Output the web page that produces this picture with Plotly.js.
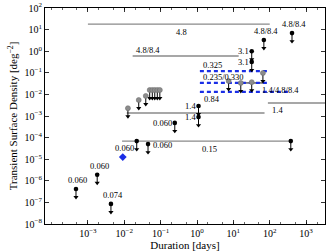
<!DOCTYPE html>
<html>
<head>
<meta charset="utf-8">
<script src="https://cdn.plot.ly/plotly-3.0.1.min.js"></script>
<style>html,body{margin:0;padding:0;background:#fff;}#chart{width:326px;height:252px;}</style>
</head>
<body>
<div id="chart"></div>
<script>
// ---- data (durations in days, densities in deg^-2) ----
// horizontal gray lines (survey limits)
const hlineStart   = [1e-3, 0.017, 0.0117, 0.0087, 89, 16];
const hlineEnd     = [100, 14, 72, 380, 5000, 65];
const hlineDensity = [18, 0.6, 0.00138, 6.9e-5, 0.004, 0.034];
const hlineLabel   = ['4.8', '4.8/8.4', '', '0.15', '1.4', '1.4/4.8/8.4'];

// blue dashed lines
const dashStart   = [1.2, 1.2, 1.2];
const dashEnd     = [100, 100, 380];
const dashDensity = [0.12, 0.034, 0.013];
const dashLabel   = ['0.325', '0.235/0.330', '0.84'];

// black upper-limit points
const limDur   = [4.7e-4, 1.8e-3, 4.3e-3, 0.022, 0.045, 0.245, 1.1, 1.1, 380, 32, 32, 69, 410];
const limDens  = [4.2e-7, 1.9e-6, 8.5e-8, 6.9e-5, 5e-5, 4.8e-4, 2.9e-3, 8.9e-4, 6.9e-5, 1.0, 0.32, 3.3, 6.9];
const limLabel = ['0.060', '0.060', '0.074', '', '0.060', '0.060', '1.4', '1.4', '', '3.1', '3.1', '4.8/8.4', '4.8/8.4'];

// gray upper-limit points
const grayDur  = [0.0126, 0.025, 0.039, 0.05, 0.059, 0.069, 0.081, 0.095, 7.4, 16, 32, 65];
const grayDens = [2.3e-3, 5.5e-3, 8.5e-3, 0.016, 0.016, 0.016, 0.016, 0.016, 0.042, 0.034, 0.037, 0.098];

// blue detection
const detDur   = [9.1e-3];
const detDens  = [1.26e-5];
const detLabel = ['0.060'];

// axis ticks (decade exponents)
const xTickExp = [-3, -2, -1, 0, 1, 2, 3];
const yTickExp = [-8, -7, -6, -5, -4, -3, -2, -1, 0, 1, 2];

// ---- styles ----
const FONT = 'Liberation Serif';
const ARROW_DEX = 0.38;   // arrow length in decades (visual style)
const hlinePlace = ['belowCenter', 'aboveStart', 'none', 'belowCenter', 'belowStart', 'belowEnd'];
const dashPlace  = ['aboveStart', 'aboveStart', 'belowStart'];
const limPlace   = ['above', 'above', 'above', 'none', 'right', 'left', 'left', 'left', 'none', 'left', 'left', 'above', 'above'];

const L = Math.log10;
const traces = [];
const ann = [];
const labFont = {family: FONT, size: 8.5, color: '#000'};

function lineLabel(text, place, x0, x1, y) {
  if (!text || place === 'none') return;
  const a = {text: text, showarrow: false, font: labFont, y: L(y), xref: 'x', yref: 'y'};
  if (place === 'belowCenter') { a.x = (L(x0) + L(x1)) / 2; a.xanchor = 'center'; a.yanchor = 'top'; a.yshift = -1; a.xshift = 3; }
  if (place === 'aboveStart')  { a.x = L(x0); a.xanchor = 'left'; a.yanchor = 'bottom'; a.yshift = -1; a.xshift = 1; }
  if (place === 'belowStart')  { a.x = L(x0); a.xanchor = 'left'; a.yanchor = 'top'; a.yshift = 0; a.xshift = 2; }
  if (place === 'belowEnd')    { a.x = L(x1); a.xanchor = 'left'; a.yanchor = 'top'; a.yshift = 0; a.xshift = -3; }
  ann.push(a);
}

hlineStart.forEach((x0, i) => {
  traces.push({x: [x0, hlineEnd[i]], y: [hlineDensity[i], hlineDensity[i]], mode: 'lines',
    line: {color: i === 5 ? '#555' : '#8a8a8a', width: 1.4}, hoverinfo: 'skip'});
  lineLabel(hlineLabel[i], hlinePlace[i], x0, hlineEnd[i], hlineDensity[i]);
});

dashStart.forEach((x0, i) => {
  traces.push({x: [x0, dashEnd[i]], y: [dashDensity[i], dashDensity[i]], mode: 'lines',
    line: {color: '#1a2ee6', width: 2.2, dash: '4px,3px'}, hoverinfo: 'skip'});
  lineLabel(dashLabel[i], dashPlace[i], x0, dashEnd[i], dashDensity[i]);
});

// upper-limit arrows: stem from each point down to a triangle tip
const allLimX = grayDur.concat(limDur);
const allLimY = grayDens.concat(limDens);
const k = Math.pow(10, -ARROW_DEX);
const stemX = [], stemY = [];
allLimX.forEach((x, i) => { stemX.push(x, x, null); stemY.push(allLimY[i], allLimY[i] * k, null); });
traces.push({x: stemX, y: stemY, mode: 'lines', line: {color: '#000', width: 1}, hoverinfo: 'skip'});
traces.push({x: allLimX, y: allLimY.map(v => v * k), mode: 'markers',
  marker: {symbol: 'triangle-down', color: '#000', size: 4.5, line: {width: 0}}, hoverinfo: 'skip'});

traces.push({x: grayDur, y: grayDens, mode: 'markers', marker: {color: '#8c8c8c', size: 5, line: {color: '#666', width: 0.5}}, hoverinfo: 'skip'});
traces.push({x: limDur, y: limDens, mode: 'markers', marker: {color: '#000', size: 4.6}, hoverinfo: 'skip'});
traces.push({x: detDur, y: detDens, mode: 'markers', marker: {color: '#1a2ee6', size: 6, symbol: 'diamond'}, hoverinfo: 'skip'});

function pointLabel(text, place, x, y) {
  if (!text || place === 'none') return;
  const a = {text: text, showarrow: false, font: labFont, x: L(x), y: L(y), xref: 'x', yref: 'y'};
  if (place === 'above') { a.xanchor = 'center'; a.yanchor = 'bottom'; a.yshift = 2; a.xshift = 2; }
  if (place === 'left')  { a.xanchor = 'right'; a.yanchor = 'middle'; a.xshift = -1; }
  if (place === 'right') { a.xanchor = 'left'; a.yanchor = 'middle'; a.xshift = 3; a.yshift = -1; }
  ann.push(a);
}
limDur.forEach((x, i) => pointLabel(limLabel[i], limPlace[i], x, limDens[i]));
detDur.forEach((x, i) => pointLabel(detLabel[i], 'above', x, detDens[i]));

const sup = e => '10<sup>' + (e < 0 ? '\u2212' + (-e) : e) + '</sup>';

const layout = {
  width: 326, height: 252,
  margin: {l: 45, r: 1, t: 8, b: 28},
  paper_bgcolor: '#fff', plot_bgcolor: '#fff',
  showlegend: false,
  font: {family: FONT, size: 10, color: '#000'},
  xaxis: {
    type: 'log', range: [-4.18, 3.52],
    tickmode: 'array', tickvals: xTickExp.map(e => Math.pow(10, e)), ticktext: xTickExp.map(sup),
    ticks: 'inside', ticklen: 4, tickwidth: 0.8, tickcolor: '#000',
    minor: {ticks: 'inside', ticklen: 2, tickwidth: 0.6, tickcolor: '#000', showgrid: false},
    showline: true, linecolor: '#000', linewidth: 1, mirror: 'ticks',
    showgrid: false, zeroline: false,
    tickfont: {family: FONT, size: 10},
    title: {text: 'Duration [days]', font: {family: FONT, size: 11}, standoff: 2}
  },
  yaxis: {
    type: 'log', range: [-8, 2],
    tickmode: 'array', tickvals: yTickExp.map(e => Math.pow(10, e)), ticktext: yTickExp.map(sup),
    ticks: 'inside', ticklen: 4, tickwidth: 0.8, tickcolor: '#000',
    showline: true, linecolor: '#000', linewidth: 1, mirror: 'ticks',
    showgrid: false, zeroline: false,
    tickfont: {family: FONT, size: 10},
    title: {text: 'Transient Surface Density [deg<sup>\u22122</sup>]', font: {family: FONT, size: 11}, standoff: 4}
  },
  annotations: ann
};

Plotly.newPlot('chart', traces, layout, {staticPlot: true, displayModeBar: false});
</script>
</body>
</html>
